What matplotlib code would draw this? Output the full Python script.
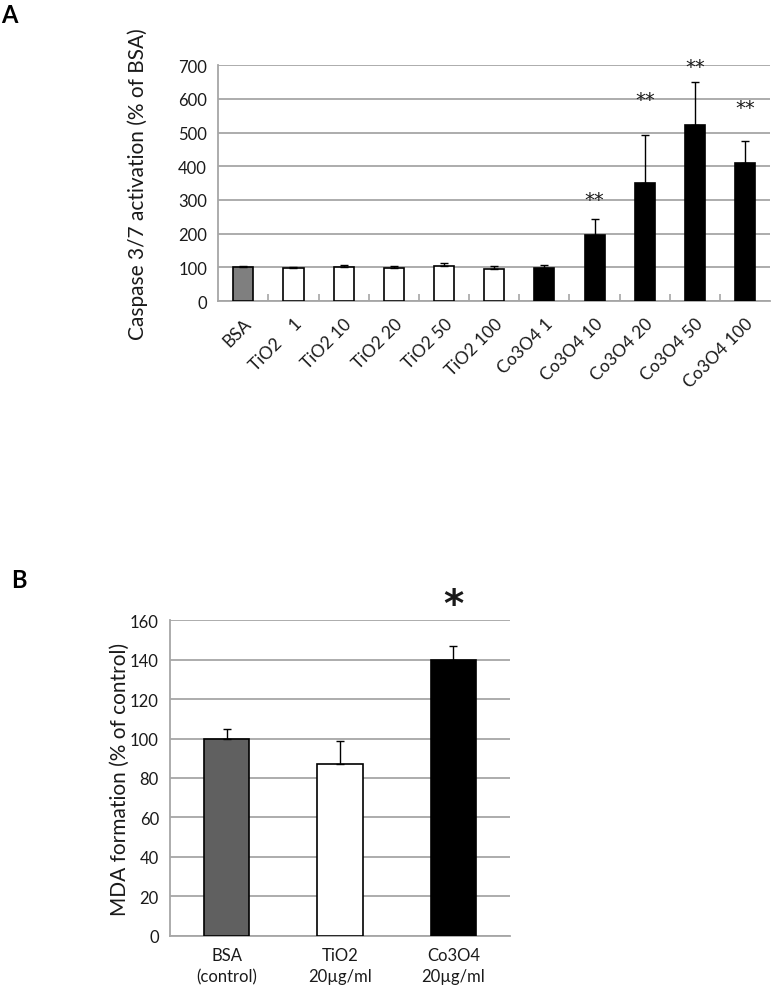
import matplotlib.pyplot as plt
import numpy as np

plt.rcParams['font.family'] = ['Lato', 'DejaVu Sans']

# Panel A data: caspase 3/7 activation
cats_a = ['BSA', 'TiO2    1', 'TiO2 10', 'TiO2 20', 'TiO2 50', 'TiO2 100',
          'Co3O4 1', 'Co3O4 10', 'Co3O4 20', 'Co3O4 50', 'Co3O4 100']
vals_a = [100, 98, 101, 99, 104, 95, 99, 197, 351, 523, 409]
err_a = [4, 3, 5, 4, 8, 8, 9, 47, 142, 127, 67]
colors_a = ['#7f7f7f'] + ['white'] * 5 + ['black'] * 5
stars_a = ['', '', '', '', '', '', '', '**', '**', '**', '**']
star_y_a = [0, 0, 0, 0, 0, 0, 0, 300, 598, 697, 573]

# Panel B data: MDA formation
cats_b = ['BSA\n(control)', 'TiO2\n20µg/ml', 'Co3O4\n20µg/ml']
vals_b = [100, 87, 140]
err_b = [5, 12, 7]
colors_b = ['#606060', 'white', 'black']
star_b = ['', '', '*']
star_y_b = [0, 0, 168]

grid_c = '#a6a6a6'
txt_c = '#1a1a1a'

fig = plt.figure(figsize=(7.71, 9.87), dpi=100)

# ---- panel A
ax1 = fig.add_axes([0.283, 0.694, 0.716, 0.239])
x = np.arange(len(cats_a))
ax1.bar(x, vals_a, width=0.4, color=colors_a, edgecolor='black', linewidth=1.2, zorder=3)
ax1.errorbar(x, vals_a, yerr=[np.zeros(len(x)), err_a], fmt='none', ecolor='black',
             elinewidth=1, capsize=3, capthick=1, zorder=4)
for xi, s, sy in zip(x, stars_a, star_y_a):
    if s:
        ax1.text(xi, sy, s, ha='center', va='center', fontsize=14, color=txt_c,
                 family='DejaVu Sans', clip_on=False)
ax1.set_xlim(-0.5, len(cats_a) - 0.5)
ax1.set_ylim(0, 700)
ax1.set_yticks(np.arange(0, 701, 100))
ax1.yaxis.grid(True, color=grid_c, linewidth=1.3, zorder=0)
ax1.set_axisbelow(True)
ax1.set_xticks(x)
ax1.set_xticklabels(cats_a, rotation=45, ha='right', rotation_mode='anchor', fontsize=12.5, color=txt_c)
ax1.set_xticks(np.arange(0.5, len(cats_a) - 0.5), minor=True)
ax1.tick_params(axis='x', which='major', length=0, pad=10)
ax1.tick_params(axis='x', which='minor', direction='in', length=5, color=grid_c, width=1.2)
ax1.tick_params(axis='y', length=0, labelsize=12, labelcolor=txt_c, pad=8)
for side in ['top', 'right']:
    ax1.spines[side].set_visible(False)
for side in ['left', 'bottom']:
    ax1.spines[side].set_color(grid_c)
    ax1.spines[side].set_linewidth(1.3)
ax1.set_ylabel('Caspase 3/7 activation (% of BSA)', fontsize=15, color=txt_c)
ax1.yaxis.set_label_coords(-0.128, 0.5)

# ---- panel B
ax2 = fig.add_axes([0.2205, 0.051, 0.441, 0.3195])
xb = np.arange(len(cats_b))
ax2.bar(xb, vals_b, width=0.4, color=colors_b, edgecolor='black', linewidth=1.2, zorder=3)
ax2.errorbar(xb, vals_b, yerr=[np.zeros(len(xb)), err_b], fmt='none', ecolor='black',
             elinewidth=1, capsize=3, capthick=1, zorder=4)
for xi, s, sy in zip(xb, star_b, star_y_b):
    if s:
        ax2.text(xi, sy, s, ha='center', va='center', fontsize=28, fontweight='bold',
                 color=txt_c, family='DejaVu Sans', clip_on=False)
ax2.set_xlim(-0.5, len(cats_b) - 0.5)
ax2.set_ylim(0, 160)
ax2.set_yticks(np.arange(0, 161, 20))
ax2.yaxis.grid(True, color=grid_c, linewidth=1.3, zorder=0)
ax2.set_axisbelow(True)
ax2.set_xticks(xb)
ax2.set_xticklabels(cats_b, fontsize=12, color=txt_c, linespacing=1.4)
ax2.tick_params(axis='x', length=0, pad=8)
ax2.tick_params(axis='y', length=0, labelsize=12, labelcolor=txt_c, pad=8)
for side in ['top', 'right']:
    ax2.spines[side].set_visible(False)
for side in ['left', 'bottom']:
    ax2.spines[side].set_color(grid_c)
    ax2.spines[side].set_linewidth(1.3)
ax2.set_ylabel('MDA formation (% of control)', fontsize=15, color=txt_c)
ax2.yaxis.set_label_coords(-0.118, 0.5)

fig.text(0.002, 0.984, 'A', fontsize=17, fontweight='bold', va='center', ha='left')
fig.text(0.014, 0.412, 'B', fontsize=17, fontweight='bold', va='center', ha='left')

fig.savefig('out.png', dpi=100)
